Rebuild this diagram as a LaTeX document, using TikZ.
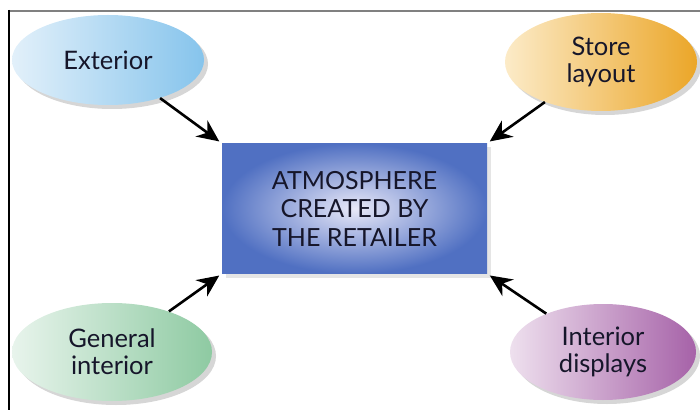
\documentclass[tikz,border=0pt]{standalone}
\usepackage{fontspec}
\setmainfont{Lato}
\usetikzlibrary{arrows.meta,shapes.geometric,shadows}
\definecolor{inkdark}{HTML}{16162A}
\definecolor{extlight}{HTML}{E2F0FA}
\definecolor{extdark}{HTML}{86C4EC}
\definecolor{laylight}{HTML}{FCEBC8}
\definecolor{laydark}{HTML}{EBA628}
\definecolor{genlight}{HTML}{E8F4EC}
\definecolor{gendark}{HTML}{8ECAA2}
\definecolor{displight}{HTML}{EEE0EE}
\definecolor{dispdark}{HTML}{A662A8}
\definecolor{boxlight}{HTML}{E8E8F8}
\definecolor{boxdark}{HTML}{5070C2}

\begin{document}
\begin{tikzpicture}[x=1pt,y=1pt,>={Stealth[length=22pt,width=20pt]},
                    semithick]
\tikzstyle{bubble}=[ellipse,text=inkdark,align=center,
                    font=\fontsize{25.5}{27}\selectfont,
                    drop shadow={shadow xshift=4pt,shadow yshift=-4pt,
                                 fill=black!16,opacity=1}]
\tikzstyle{feed}=[->,line width=2.6pt,shorten >=3pt]
\useasboundingbox (0,0) rectangle (700,410);
% frame
\draw[gray,line width=2pt] (8,399) -- (700,399);
\draw[black,line width=1.5pt] (9,400) -- (9,0);
% centre box
\node[rectangle,minimum width=265pt,minimum height=130pt,
      inner color=boxlight,outer color=boxdark,text=inkdark,align=center,
      font=\fontsize{25}{28.5}\selectfont,
      drop shadow={shadow xshift=4pt,shadow yshift=-4pt,fill=black!10,opacity=1}]
      (atmo) at (354.5,201.5) {ATMOSPHERE\\CREATED BY\\THE RETAILER};
% the four bubbles
\node[bubble,minimum width=192pt,minimum height=90pt,
      left color=extlight,right color=extdark] (ext) at (108,350) {Exterior};
\node[bubble,minimum width=192pt,minimum height=98pt,
      left color=laylight,right color=laydark] (lay) at (601,348) {Store\\layout};
\node[bubble,minimum width=200pt,minimum height=98pt,
      left color=genlight,right color=gendark] (gen) at (112,58) {General\\interior};
\node[bubble,minimum width=186pt,minimum height=96pt,
      left color=displight,right color=dispdark] (disp) at (603,58) {Interior\\displays};
% arrows into the box
\draw[feed] (ext) -- (atmo.north west);
\draw[feed] (lay) -- (atmo.north east);
\draw[feed] (gen) -- (atmo.south west);
\draw[feed] (disp) -- (atmo.south east);
\end{tikzpicture}
\end{document}
